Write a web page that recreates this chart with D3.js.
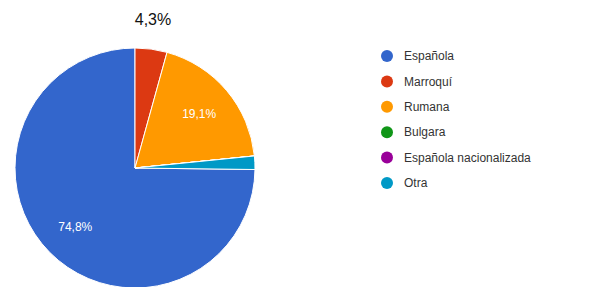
<!DOCTYPE html>
<html><head><meta charset="utf-8">
<script src="https://cdn.jsdelivr.net/npm/d3@7"></script>
<style>body{margin:0;background:#fff;}svg{display:block;}</style>
</head><body>
<script>
const categories = ["Española","Marroquí","Rumana","Bulgara","Española nacionalizada","Otra"];
const values = [74.8, 4.3, 19.1, 0, 0, 1.8];
const labels = ["74,8%","4,3%","19,1%","","","" ];
const colors = ["#3366cc","#dc3912","#ff9900","#109618","#990099","#0099c6"];

const W = 592, H = 287;
const svg = d3.select("body").append("svg").attr("width", W).attr("height", H);
const cx = 135, cy = 168, R = 120;

const total = d3.sum(values);
const start = -2*Math.PI*values[0]/total;
const pie = d3.pie().sort(null).value(d => d).startAngle(start).endAngle(start + 2*Math.PI);
const arcs = pie(values);
const arc = d3.arc().innerRadius(0).outerRadius(R);
const g = svg.append("g").attr("transform", `translate(${cx},${cy})`);
g.selectAll("path").data(arcs).join("path")
  .attr("d", arc).attr("fill", (d,i) => colors[i])
  .attr("stroke", "#fff").attr("stroke-width", 1);

// inside labels
const inner = d3.arc().innerRadius(R*0.7).outerRadius(R*0.7);
arcs.forEach((d,i) => {
  if (!labels[i] || i === 1) return;
  const [x,y] = inner.centroid(d);
  g.append("text").attr("x", x).attr("y", y).attr("dy", "0.35em")
    .attr("text-anchor", "middle").attr("fill", "#fff")
    .attr("font-family", "Liberation Sans, Arial, sans-serif").attr("font-size", 12)
    .text(labels[i]);
});
// outside label for small slice
svg.append("text").attr("x", 153).attr("y", 25).attr("text-anchor", "middle")
  .attr("fill", "#111").attr("font-family", "Liberation Sans, Arial, sans-serif").attr("font-size", 16)
  .text(labels[1]);

// legend
const ly = d3.scalePoint().domain(categories).range([56, 183]);
const lg = svg.append("g");
categories.forEach((c,i) => {
  lg.append("circle").attr("cx", 387).attr("cy", ly(c)).attr("r", 6).attr("fill", colors[i]);
  lg.append("text").attr("x", 404).attr("y", ly(c)).attr("dy", "0.35em")
    .attr("fill", "#333").attr("font-family", "Liberation Sans, Arial, sans-serif").attr("font-size", 12)
    .text(c);
});
</script>
</body></html>
